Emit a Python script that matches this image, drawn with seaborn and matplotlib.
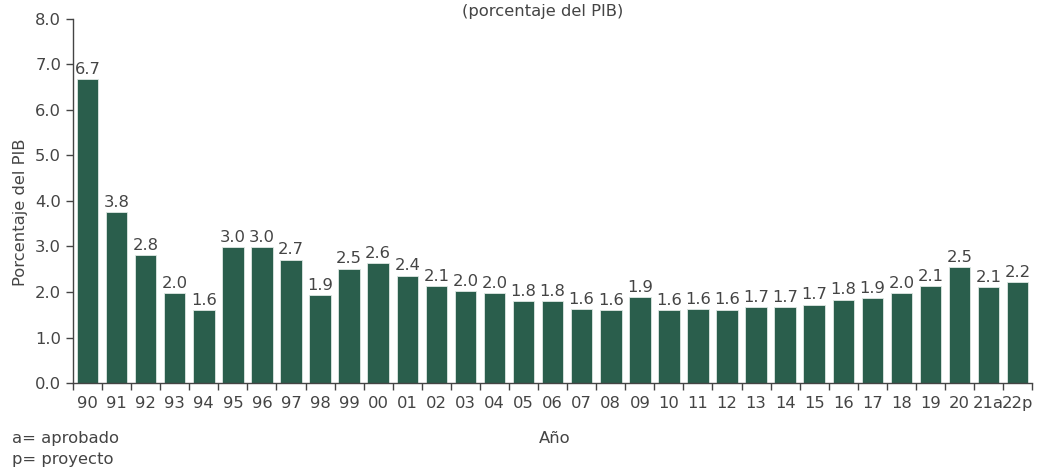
import numpy as np
import pandas as pd
import matplotlib
matplotlib.use('Agg')
import matplotlib.pyplot as plt
import seaborn as sns

## Datos
anios = ['90', '91', '92', '93', '94', '95', '96', '97', '98', '99', '00', '01',
         '02', '03', '04', '05', '06', '07', '08', '09', '10', '11', '12', '13',
         '14', '15', '16', '17', '18', '19', '20', '21a', '22p']
valores = [6.67, 3.76, 2.81, 1.98, 1.60, 2.99, 2.99, 2.71, 1.93, 2.51, 2.64, 2.36,
           2.13, 2.02, 1.98, 1.80, 1.80, 1.63, 1.60, 1.89, 1.60, 1.63, 1.61, 1.66,
           1.67, 1.72, 1.83, 1.86, 1.98, 2.13, 2.55, 2.11, 2.22]

df = pd.DataFrame({'Año': anios, 'PIB': valores})

sns.set_style('white')
plt.rcParams['font.family'] = ['DejaVu Sans']
gris = '#444444'
fs = 11.8

fig = plt.figure(figsize=(10.37, 4.70), dpi=100)
ax = fig.add_axes([0.0704, 0.185, 0.925, 0.775])

sns.barplot(data=df, x='Año', y='PIB', order=anios, color='#2a5e4c',
            saturation=1, width=0.74, edgecolor='#dfe8e4', linewidth=0.6, ax=ax)

# Etiquetas de valor
for i, v in enumerate(valores):
    ax.text(i, v + 0.05, '{:.1f}'.format(v), ha='center', va='bottom',
            fontsize=fs, color=gris)

ax.set_ylim(0, 8)
ax.set_xlim(-0.5, len(anios) - 0.5)
ax.set_yticks(np.arange(0, 8.1, 1.0))
ax.set_yticklabels(['{:.1f}'.format(t) for t in np.arange(0, 8.1, 1.0)])
ax.set_xticks(np.arange(-0.5, len(anios), 1.0), minor=True)
ax.tick_params(axis='x', which='major', bottom=True, length=0, pad=9,
               labelsize=fs, colors=gris)
ax.tick_params(axis='x', which='minor', bottom=True, length=5, width=1,
               color=gris, direction='out')
ax.tick_params(axis='y', which='major', left=True, length=5, width=1, color=gris,
               labelsize=fs, labelcolor=gris, direction='out')

sns.despine(ax=ax)
for s in ['left', 'bottom']:
    ax.spines[s].set_color(gris)
    ax.spines[s].set_linewidth(1)

ax.set_xlabel('')
ax.set_ylabel('Porcentaje del PIB', fontsize=fs, color=gris)
ax.yaxis.set_label_coords(-0.047, 0.47)

fig.text(0.523, 0.975, '(porcentaje del PIB)', ha='center', va='center',
         fontsize=fs, color=gris)
fig.text(0.535, 0.068, 'Año', ha='center', va='center', fontsize=fs, color=gris)
fig.text(0.012, 0.068, 'a= aprobado', ha='left', va='center', fontsize=fs, color=gris)
fig.text(0.012, 0.023, 'p= proyecto', ha='left', va='center', fontsize=fs, color=gris)

plt.savefig('out.png', dpi=100)
